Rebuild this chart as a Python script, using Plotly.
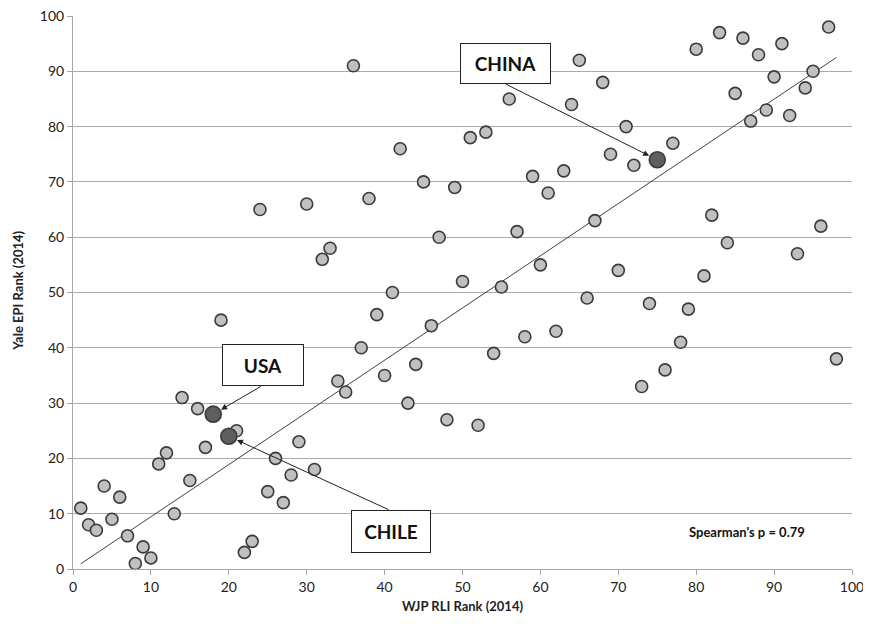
import numpy as np
import plotly.graph_objects as go

# WJP RLI rank (x) and Yale EPI rank (y), 2014
wjp_rank = list(range(1, 99))
epi_rank = [11, 8, 7, 15, 9, 13, 6, 1, 4, 2,
            19, 21, 10, 31, 16, 29, 22, 28, 45, 24,
            25, 3, 5, 65, 14, 20, 12, 17, 23, 66,
            18, 56, 58, 34, 32, 91, 40, 67, 46, 35,
            50, 76, 30, 37, 70, 44, 60, 27, 69, 52,
            78, 26, 79, 39, 51, 85, 61, 42, 71, 55,
            68, 43, 72, 84, 92, 49, 63, 88, 75, 54,
            80, 73, 33, 48, 74, 36, 77, 41, 47, 94,
            53, 64, 97, 59, 86, 96, 81, 93, 83, 89,
            95, 82, 57, 87, 90, 62, 98, 38]

highlight_names = ["USA", "CHILE", "CHINA"]
highlight_x = [18, 20, 75]
highlight_y = [28, 24, 74]
# label box centres and arrow tails (data units)
label_x = [24.45, 40.8, 55.5]
label_y = [36.9, 6.8, 91.5]
tail_x = [24.35, 40.7, 55.4]
tail_y = [33.2, 10.6, 87.8]
spearman_text = "Spearman's p = 0.79"
x_title = "WJP RLI Rank (2014)"
y_title = "Yale EPI Rank (2014)"

x = np.array(wjp_rank, dtype=float)
y = np.array(epi_rank, dtype=float)
# linear trend through origin
slope = float((x * y).sum() / (x * x).sum())
trend_x = [x.min(), x.max()]
trend_y = [slope * v for v in trend_x]

font_family = "Lato, 'Open Sans', sans-serif"

fig = go.Figure()
fig.add_trace(go.Scatter(
    x=trend_x, y=trend_y, mode="lines",
    line=dict(color="#404040", width=1), hoverinfo="skip", showlegend=False))
fig.add_trace(go.Scatter(
    x=wjp_rank, y=epi_rank, mode="markers", cliponaxis=False,
    marker=dict(size=12, color="#c0c0c0", line=dict(color="#3a3a3a", width=1.6)),
    showlegend=False))
fig.add_trace(go.Scatter(
    x=highlight_x, y=highlight_y, mode="markers", cliponaxis=False,
    marker=dict(size=16, color="#5f5f5f", line=dict(color="#3a3a3a", width=1.6)),
    showlegend=False))

annotations = []
sizes = [(80, 40), (78, 41), (89, 39)]
for name, hx, hy, lx, ly, tx, ty, (w, h) in zip(highlight_names, highlight_x, highlight_y,
                                               label_x, label_y, tail_x, tail_y, sizes):
    annotations.append(dict(
        x=hx, y=hy, ax=tx, ay=ty, xref="x", yref="y", axref="x", ayref="y",
        text="", showarrow=True, arrowhead=2, arrowsize=1.2, arrowwidth=1,
        arrowcolor="#222222", standoff=9))
    annotations.append(dict(
        x=lx, y=ly, xref="x", yref="y", text="<b>%s</b>" % name, showarrow=False,
        font=dict(family=font_family, size=19, color="#111111"),
        bordercolor="#222222", borderwidth=1, borderpad=0, bgcolor="white",
        width=w, height=h))
annotations.append(dict(
    x=86.5, y=6.75, xref="x", yref="y", text="<b>%s</b>" % spearman_text,
    showarrow=False, font=dict(family=font_family, size=13, color="#111111")))
annotations.append(dict(
    x=-0.0706, y=0.503, xref="paper", yref="paper", text="<b>%s</b>" % y_title,
    textangle=-90, showarrow=False, xanchor="center", yanchor="middle",
    font=dict(family=font_family, size=13, color="#222222")))
annotations.append(dict(
    x=0.5, y=-0.067, xref="paper", yref="paper", text="<b>%s</b>" % x_title,
    showarrow=False, xanchor="center", yanchor="middle",
    font=dict(family=font_family, size=13, color="#222222")))

fig.update_layout(
    width=871, height=633,
    margin=dict(l=65, r=27, t=8, b=72),
    paper_bgcolor="white", plot_bgcolor="white",
    font=dict(family=font_family, size=13, color="#222222"),
    annotations=annotations,
    xaxis=dict(range=[0, 100], dtick=10, showgrid=False, zeroline=False, automargin=False,
               showline=True, linecolor="#a6a6a6", linewidth=1,
               ticks="outside", ticklen=5, tickcolor="#a6a6a6",
               ticklabeloverflow="allow",
               tickfont=dict(size=14, color="#222222")),
    yaxis=dict(range=[0, 100], dtick=10, showgrid=True, gridcolor="#ababab", gridwidth=1,
               zeroline=False, showline=True, linecolor="#a6a6a6", linewidth=1, automargin=False,
               ticks="outside", ticklen=5, tickcolor="#a6a6a6",
               ticklabeloverflow="allow",
               tickfont=dict(size=14, color="#222222")),
)

fig.write_html("out.html")
